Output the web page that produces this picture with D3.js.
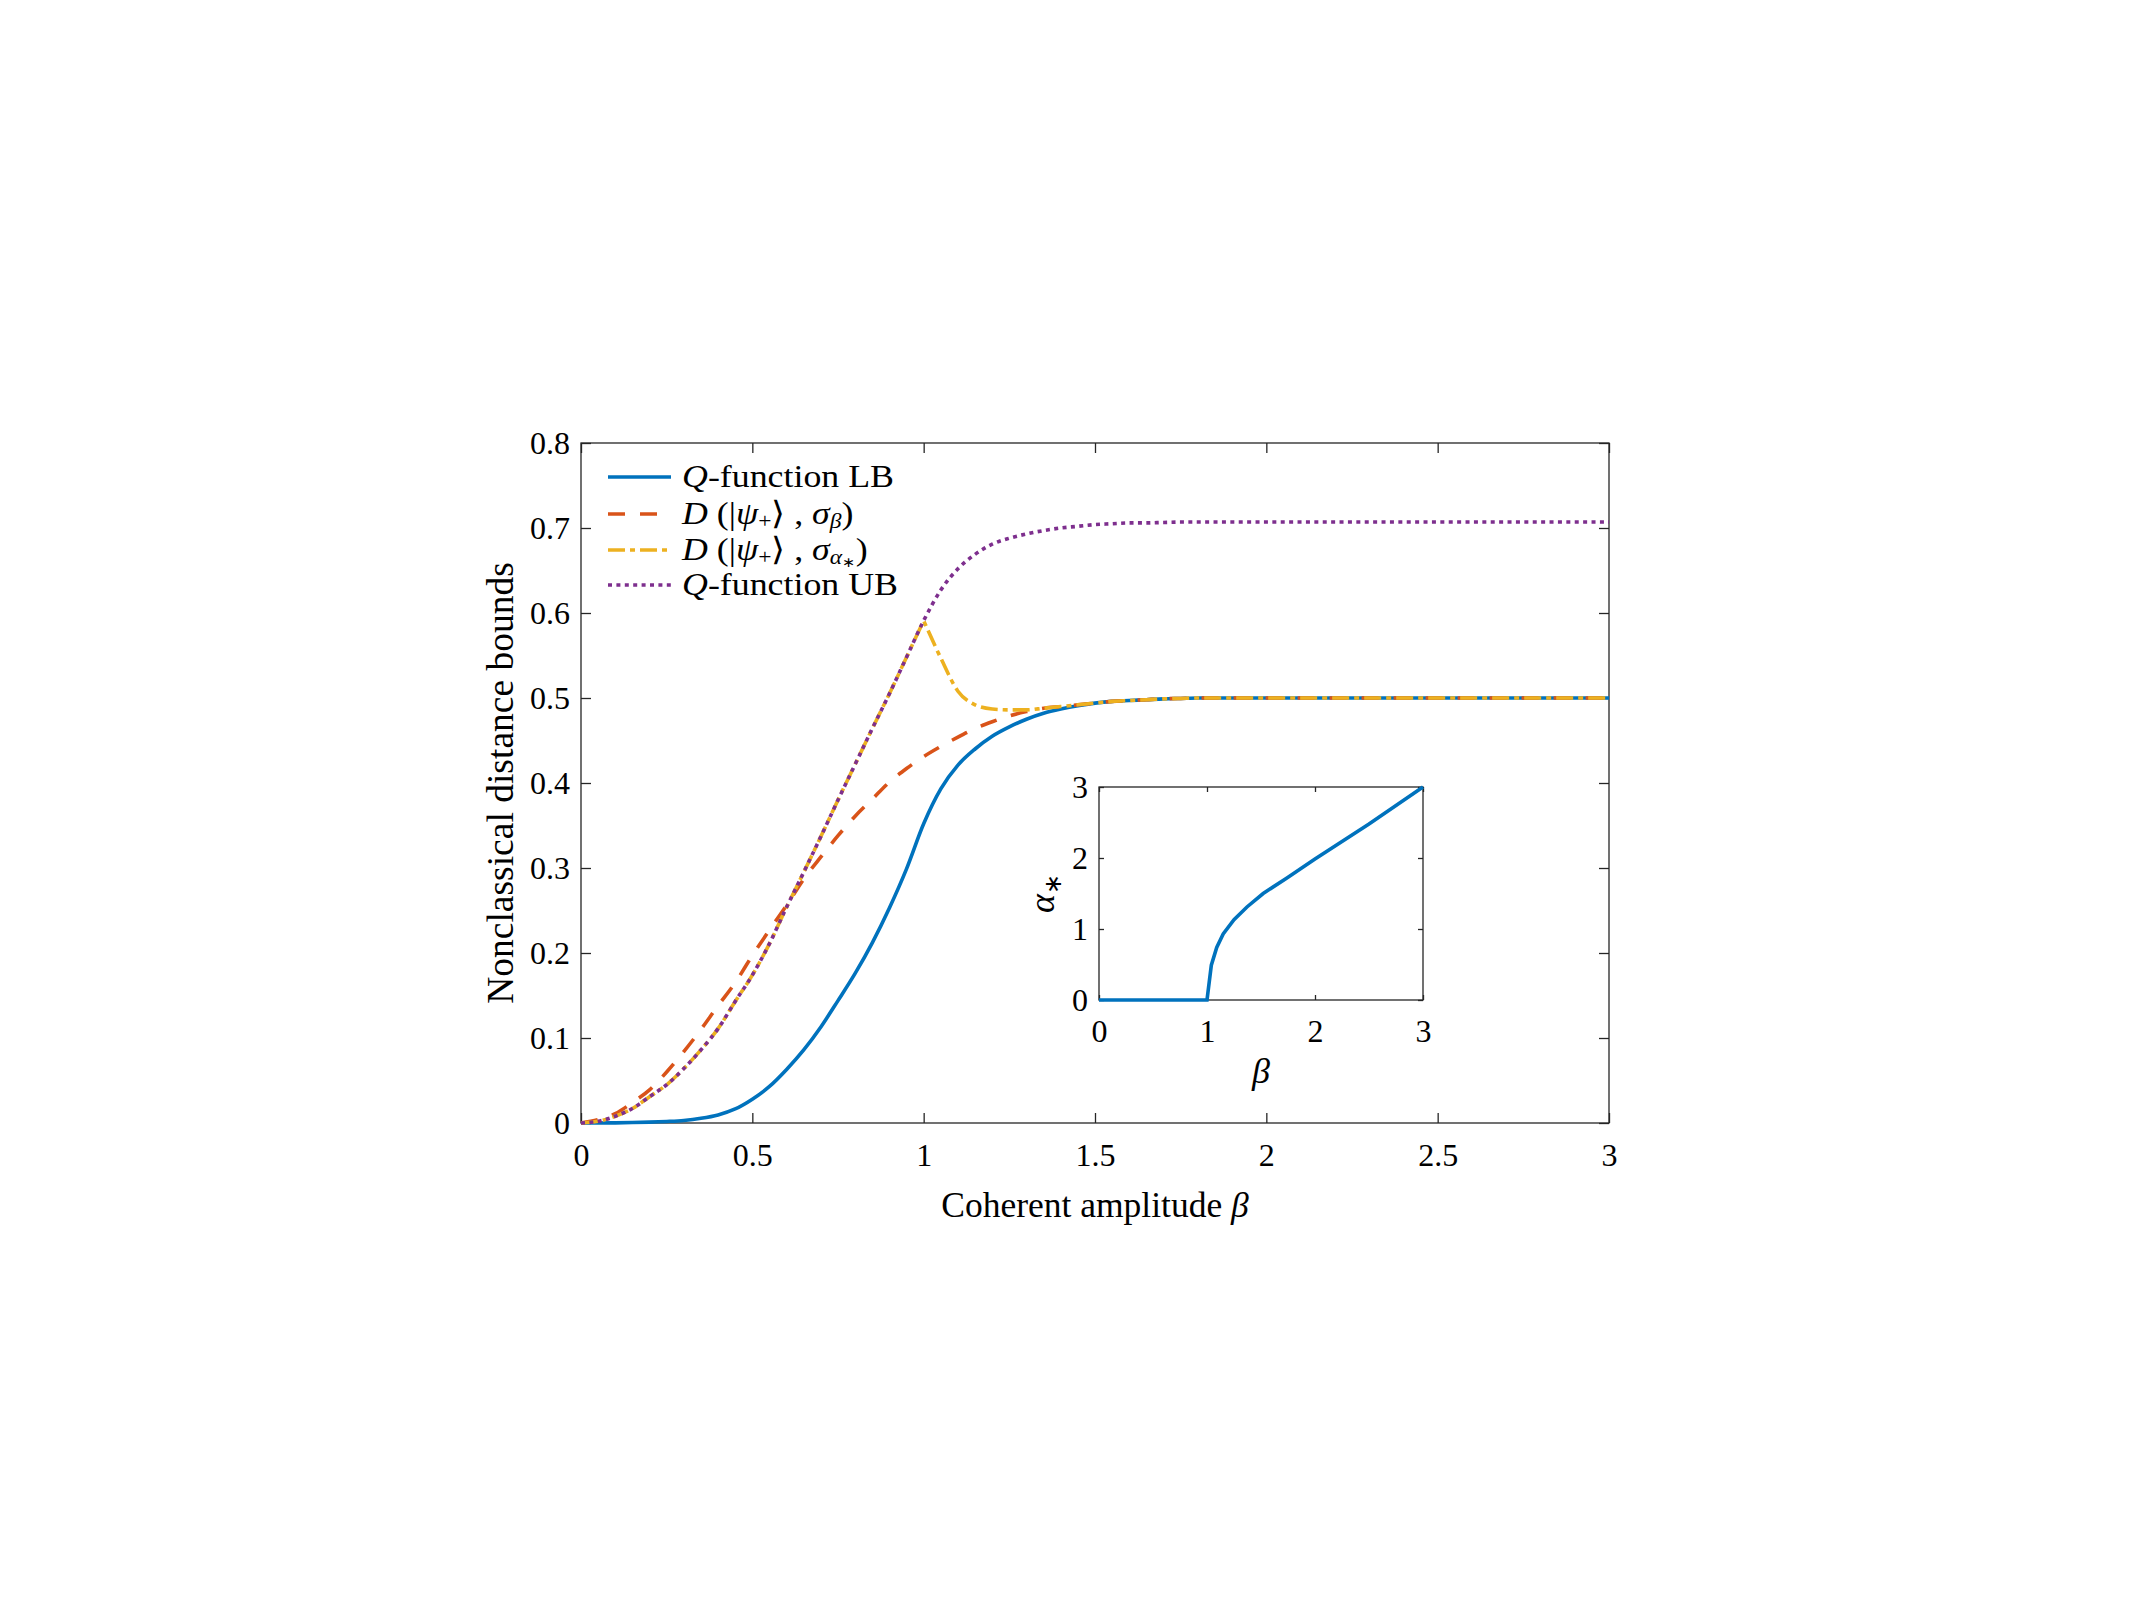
<!DOCTYPE html>
<html>
<head>
<meta charset="utf-8">
<script src="https://cdn.jsdelivr.net/npm/d3@7"></script>
<style>
body { margin: 0; background: #fff; }
text { font-family: "Liberation Serif", "Times New Roman", serif; fill: #000; }
</style>
</head>
<body>
<svg id="chart" width="2134" height="1600"></svg>
<script>
// values
const beta = [0, 0.05, 0.1, 0.15, 0.2, 0.25, 0.3, 0.35, 0.4, 0.45, 0.5, 0.55, 0.6, 0.65, 0.7, 0.75, 0.8, 0.85, 0.9, 0.95,
    1, 1.05, 1.1, 1.15, 1.2, 1.25, 1.3, 1.35, 1.4, 1.45, 1.5, 1.55, 1.6, 1.65, 1.7, 1.75, 1.8, 1.9, 2, 2.5, 3];
const qLower = [0, 0, 0.0002, 0.0005, 0.001, 0.0018, 0.003, 0.0055, 0.0095, 0.0165, 0.028, 0.043, 0.063, 0.086, 0.113, 0.144, 0.176, 0.212, 0.253, 0.299,
    0.352, 0.393, 0.421, 0.440, 0.455, 0.466, 0.475, 0.482, 0.487, 0.491, 0.494, 0.496, 0.497, 0.498, 0.499, 0.4995, 0.5, 0.5, 0.5, 0.5, 0.5];
const dSigmaBeta = [0, 0.004, 0.011, 0.024, 0.039, 0.060, 0.084, 0.110, 0.138, 0.165, 0.197, 0.227, 0.256, 0.287, 0.313, 0.338, 0.361, 0.381, 0.401, 0.417,
    0.431, 0.443, 0.454, 0.464, 0.472, 0.479, 0.484, 0.488, 0.490, 0.492, 0.494, 0.496, 0.497, 0.498, 0.499, 0.4995, 0.5, 0.5, 0.5, 0.5, 0.5];
const dSigmaAlpha = [0, 0.002, 0.008, 0.017, 0.031, 0.045, 0.064, 0.086, 0.111, 0.143, 0.174, 0.211, 0.254, 0.295, 0.337, 0.380, 0.422, 0.464, 0.505, 0.548,
    0.591, 0.547, 0.508, 0.492, 0.487, 0.486, 0.486, 0.488, 0.490, 0.492, 0.494, 0.496, 0.497, 0.498, 0.499, 0.4995, 0.5, 0.5, 0.5, 0.5, 0.5];
const qUpper = [0, 0.002, 0.008, 0.017, 0.031, 0.045, 0.064, 0.086, 0.111, 0.143, 0.174, 0.211, 0.254, 0.295, 0.337, 0.380, 0.422, 0.464, 0.505, 0.548,
    0.591, 0.627, 0.652, 0.669, 0.681, 0.688, 0.693, 0.697, 0.700, 0.702, 0.704, 0.705, 0.706, 0.706, 0.7065, 0.707, 0.707, 0.707, 0.707, 0.707, 0.707];

const insetBeta = [0, 1, 1.04, 1.09, 1.15, 1.25, 1.37, 1.52, 1.74, 2, 2.5, 3];
const insetAlpha = [0, 0, 0.49, 0.74, 0.93, 1.13, 1.31, 1.5, 1.72, 1.985, 2.48, 3];

const xTicks = [0, 0.5, 1, 1.5, 2, 2.5, 3];
const yTicks = [0, 0.1, 0.2, 0.3, 0.4, 0.5, 0.6, 0.7, 0.8];
const insetXTicks = [0, 1, 2, 3];
const insetYTicks = [0, 1, 2, 3];

// the yellow curve has a corner at beta = 1, so it is split there
const series = [
    {key: "lb", values: qLower, color: "#0072BD", dash: null, corner: null},
    {key: "sb", values: dSigmaBeta, color: "#D95319", dash: "17,15", corner: null},
    {key: "sa", values: dSigmaAlpha, color: "#EDB120", dash: "17,5,5,5", corner: 1},
    {key: "ub", values: qUpper, color: "#7E2F8E", dash: "4,4.4", corner: null}
];

const axisColor = "#262626";
const svg = d3.select("#chart");

// main axes box
const box = {left: 581, right: 1609, top: 443, bottom: 1123};
const x = d3.scaleLinear().domain([0, 3]).range([box.left, box.right]);
const y = d3.scaleLinear().domain([0, 0.8]).range([box.bottom, box.top]);

function drawAxes(xs, ys, b, xt, yt, tickLen, fontSize, xPad, yPad) {
    let g = svg.append("g");
    // ticks point inwards on all four sides
    g.append("g").attr("transform", `translate(0,${b.bottom})`)
        .call(d3.axisBottom(xs).tickValues(xt).tickSize(-tickLen).tickSizeOuter(0).tickFormat(d => String(d)))
        .call(a => a.select(".domain").remove())
        .call(a => a.selectAll("text").attr("y", xPad).attr("dy", null).attr("font-size", fontSize)
            .style("font-family", "'Liberation Serif', serif").attr("fill", "#000"));
    g.append("g").attr("transform", `translate(0,${b.top})`)
        .call(d3.axisTop(xs).tickValues(xt).tickSize(-tickLen).tickSizeOuter(0).tickFormat(""))
        .call(a => a.select(".domain").remove());
    g.append("g").attr("transform", `translate(${b.left},0)`)
        .call(d3.axisLeft(ys).tickValues(yt).tickSize(-tickLen).tickSizeOuter(0).tickFormat(d => String(d)))
        .call(a => a.select(".domain").remove())
        .call(a => a.selectAll("text").attr("x", -yPad).attr("dy", "0.34em").attr("font-size", fontSize)
            .style("font-family", "'Liberation Serif', serif").attr("fill", "#000"));
    g.append("g").attr("transform", `translate(${b.right},0)`)
        .call(d3.axisRight(ys).tickValues(yt).tickSize(-tickLen).tickSizeOuter(0).tickFormat(""))
        .call(a => a.select(".domain").remove());
    g.selectAll(".tick line").attr("stroke", axisColor).attr("stroke-width", 1.3);
    g.append("rect")
        .attr("x", b.left).attr("y", b.top)
        .attr("width", b.right - b.left).attr("height", b.bottom - b.top)
        .attr("fill", "none").attr("stroke", axisColor).attr("stroke-width", 1.3);
    return g;
}

drawAxes(x, y, box, xTicks, yTicks, 10, 32, 43, 11);

// curves, drawn in the same order as the original
const line = d3.line().x(d => x(d[0])).y(d => y(d[1])).curve(d3.curveMonotoneX);
function curvePath(s) {
    let pts = beta.map((b, i) => [b, s.values[i]]);
    if (s.corner === null) return line(pts);
    let left = pts.filter(p => p[0] <= s.corner);
    let right = pts.filter(p => p[0] >= s.corner);
    return line(left) + line(right).replace(/^M[^CL]*/, "L" + x(s.corner) + "," + y(left[left.length - 1][1]));
}
svg.append("g").selectAll("path")
    .data(series)
    .join("path")
    .attr("d", s => curvePath(s))
    .attr("fill", "none")
    .attr("stroke", s => s.color)
    .attr("stroke-width", 3.6)
    .attr("stroke-dasharray", s => s.dash);

// axis labels
svg.append("text")
    .attr("x", (box.left + box.right) / 2).attr("y", 1217)
    .attr("text-anchor", "middle").attr("font-size", 35.5)
    .call(t => {
        t.append("tspan").text("Coherent amplitude ");
        t.append("tspan").attr("font-style", "italic").text("β");
    });
svg.append("text")
    .attr("transform", `translate(513,${(box.top + box.bottom) / 2}) rotate(-90)`)
    .attr("text-anchor", "middle").attr("font-size", 37.5)
    .text("Nonclassical distance bounds");

// legend (text is a little wide in the original, so it is stretched sideways)
const legendRows = [
    [{t: "Q", i: true}, {t: "-function LB"}],
    [{t: "D", i: true}, {t: " (|"}, {t: "ψ", i: true}, {t: "+", sub: true}, {t: "⟩ , "}, {t: "σ", i: true}, {t: "β", i: true, sub: true}, {t: ")"}],
    [{t: "D", i: true}, {t: " (|"}, {t: "ψ", i: true}, {t: "+", sub: true}, {t: "⟩ , "}, {t: "σ", i: true}, {t: "α", i: true, sub: true}, {t: "∗", sub: true, sub2: true}, {t: ")"}],
    [{t: "Q", i: true}, {t: "-function UB"}]
];
const legendY = [477, 514, 550, 585];
const lg = svg.append("g");
lg.selectAll("line")
    .data(series)
    .join("line")
    .attr("x1", 608).attr("x2", 671)
    .attr("y1", (d, i) => legendY[i]).attr("y2", (d, i) => legendY[i])
    .attr("stroke", d => d.color)
    .attr("stroke-width", 3.6)
    .attr("stroke-dasharray", d => d.dash);

lg.selectAll("text")
    .data(legendRows)
    .join("text")
    .attr("transform", (d, i) => `translate(682,${legendY[i] + 10}) scale(1.12,1)`)
    .attr("font-size", 32)
    .each(function (parts) {
        let t = d3.select(this);
        let shift = 0;
        for (let p of parts) {
            let target = p.sub2 ? 7 : (p.sub ? 4 : 0);
            let sp = t.append("tspan").text(p.t).attr("dy", target - shift);
            shift = target;
            if (p.i) sp.attr("font-style", "italic");
            if (p.sub) sp.attr("font-size", p.sub2 ? 14 : 21);
        }
    });

// inset
const ibox = {left: 1099, right: 1423, top: 787, bottom: 1000};
const ix = d3.scaleLinear().domain([0, 3]).range([ibox.left, ibox.right]);
const iy = d3.scaleLinear().domain([0, 3]).range([ibox.bottom, ibox.top]);
svg.append("rect")
    .attr("x", ibox.left).attr("y", ibox.top)
    .attr("width", ibox.right - ibox.left).attr("height", ibox.bottom - ibox.top)
    .attr("fill", "#fff");
drawAxes(ix, iy, ibox, insetXTicks, insetYTicks, 5, 32, 42, 11);

svg.append("path")
    .attr("d", d3.line().x(d => ix(d[0])).y(d => iy(d[1]))(insetBeta.map((b, i) => [b, insetAlpha[i]])))
    .attr("fill", "none")
    .attr("stroke", "#0072BD")
    .attr("stroke-width", 3.6);

svg.append("text")
    .attr("x", (ibox.left + ibox.right) / 2).attr("y", 1083)
    .attr("text-anchor", "middle").attr("font-size", 36)
    .attr("font-style", "italic").text("β");
svg.append("text")
    .attr("transform", `translate(1054,${(ibox.top + ibox.bottom) / 2}) rotate(-90)`)
    .attr("text-anchor", "middle").attr("font-size", 36)
    .call(t => {
        t.append("tspan").attr("font-style", "italic").text("α");
        t.append("tspan").attr("font-size", 24).attr("dy", 7).text("∗");
    });
</script>
</body>
</html>
